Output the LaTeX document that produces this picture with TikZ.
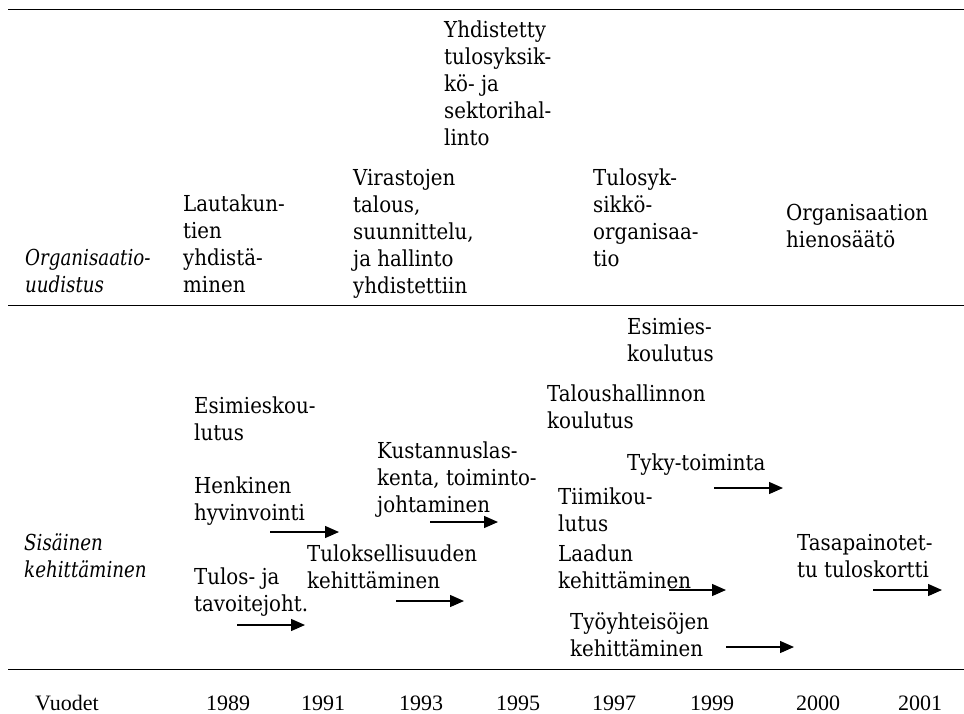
\documentclass[tikz,border=0pt]{standalone}
\usepackage{fontspec}
\setmainfont{DejaVu Serif}[FakeStretch=0.9,ItalicFeatures={FakeStretch=0.83}]
\newfontfamily\yearfont{Liberation Serif}
\usetikzlibrary{arrows.meta}
\begin{document}
\begin{tikzpicture}[x=1pt,y=-1pt,
  % multi-line labels are placed by the baseline of their last line
  lbl/.style={anchor=base west,inner sep=0pt,align=left,
    font=\fontsize{22}{27}\selectfont},
  rowlbl/.style={lbl,font=\fontsize{22}{27}\selectfont\itshape},
  yr/.style={anchor=base,inner sep=0pt,font=\yearfont\fontsize{22}{26}\selectfont},
  rule/.style={line width=1pt},
  trend/.style={line width=1.3pt,-{Triangle[length=14pt,width=12pt]}}]
\useasboundingbox (0,0) rectangle (964,713);

% horizontal rules
\draw[rule] (8,9) -- (964,9);
\draw[rule] (8,305) -- (964,305);
\draw[rule] (8,669) -- (964,669);

% organisational reform row
\node[rowlbl] (org) at (25,292) {Organisaatio-\\uudistus};
\node[lbl] (lauta) at (183,292) {Lautakun-\\tien\\yhdistä-\\minen};
\node[lbl] (viras) at (353,293) {Virastojen\\talous,\\suunnittelu,\\ja hallinto\\yhdistettiin};
\node[lbl] (yhdis) at (444,145) {Yhdistetty\\tulosyksik-\\kö- ja\\sektorihal-\\linto};
\node[lbl] (tulos) at (593,266) {Tulosyk-\\sikkö-\\organisaa-\\tio};
\node[lbl] (hieno) at (786,247) {Organisaation\\hienosäätö};

% internal development row
\node[rowlbl] (sis) at (24,577) {Sisäinen\\kehittäminen};
\node[lbl] (esim1) at (194,440) {Esimieskou-\\lutus};
\node[lbl] (henk) at (194,520) {Henkinen\\hyvinvointi};
\node[lbl] (tav) at (194,611) {Tulos- ja\\tavoitejoht.};
\node[lbl] (tulok) at (307,588) {Tuloksellisuuden\\kehittäminen};
\node[lbl] (kust) at (377,512) {Kustannuslas-\\kenta, toiminto-\\johtaminen};
\node[lbl] (esim2) at (627,361) {Esimies-\\koulutus};
\node[lbl] (talo) at (547,428) {Taloushallinnon\\koulutus};
\node[lbl] (tyky) at (627,470) {Tyky-toiminta};
\node[lbl] (tiimi) at (558,531) {Tiimikou-\\lutus};
\node[lbl] (laatu) at (558,588) {Laadun\\kehittäminen};
\node[lbl] (tyoyh) at (570,656) {Työyhteisöjen\\kehittäminen};
\node[lbl] (tasap) at (797,577) {Tasapainotet-\\tu tuloskortti};

% continuation arrows
\coordinate (a1s) at (270,532); \coordinate (a1e) at (339,532);
\coordinate (a2s) at (237,625); \coordinate (a2e) at (305,625);
\coordinate (a3s) at (396,601); \coordinate (a3e) at (464,601);
\coordinate (a4s) at (430,522); \coordinate (a4e) at (498,522);
\coordinate (a5s) at (714,488); \coordinate (a5e) at (783,488);
\coordinate (a6s) at (669,590); \coordinate (a6e) at (726,590);
\coordinate (a7s) at (726,647); \coordinate (a7e) at (794,647);
\coordinate (a8s) at (873,590); \coordinate (a8e) at (942,590);
\foreach \i in {1,...,8} \draw[trend] (a\i s) -- (a\i e);

% year axis
\node[anchor=base west,inner sep=0pt,font=\yearfont\fontsize{22}{26}\selectfont] (vuodet) at (35,710) {Vuodet};
\node[yr] (y89) at (228,710) {1989};
\node[yr] (y91) at (323,710) {1991};
\node[yr] (y93) at (421,710) {1993};
\node[yr] (y95) at (518,710) {1995};
\node[yr] (y97) at (614,710) {1997};
\node[yr] (y99) at (712,710) {1999};
\node[yr] (y00) at (818,710) {2000};
\node[yr] (y01) at (920,710) {2001};
\end{tikzpicture}
\end{document}
